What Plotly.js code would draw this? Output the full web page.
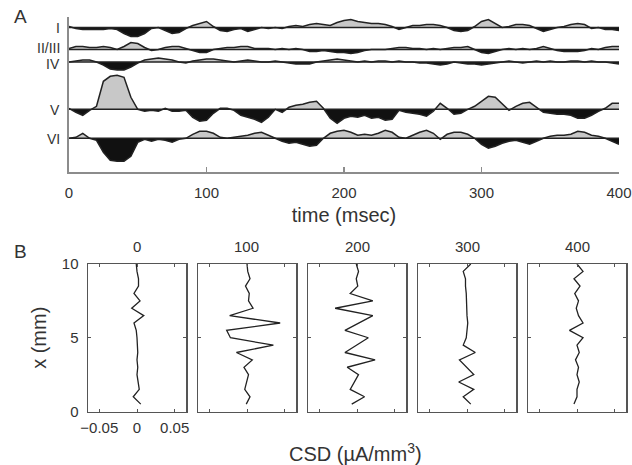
<!DOCTYPE html>
<html><head><meta charset="utf-8">
<script src="https://cdn.plot.ly/plotly-3.0.1.min.js"></script>
<style>html,body{margin:0;padding:0;background:#fff}#chart{width:632px;height:465px}</style>
</head><body><div id="chart"></div>
<script>
// ---------- DATA ----------
// Panel A: time axis (msec) and CSD traces per cortical layer (arbitrary units, up = positive)
const time = [0,5,10,15,20,25,30,35,40,45,50,55,60,65,70,75,80,85,90,95,100,105,110,115,120,125,130,135,140,145,150,155,160,165,170,175,180,185,190,195,200,205,210,215,220,225,230,235,240,245,250,255,260,265,270,275,280,285,290,295,300,305,310,315,320,325,330,335,340,345,350,355,360,365,370,375,380,385,390,395,400];
const layerNames = ["I","II/III","IV","V","VI"];
const layerI   = [1,-1,-2,-2,-2,-2,-1,-2,-6,-9, -9,-6,-1,0,-3,-6,-5,-1,2,4, 6,1,-3,-4,-2,-1,-4,-2,0,-1, 0,-1,1,2,1,3,4,3,2,5, 7,8,6,5,4,4,3,1,-2,0, 2,2,3,3,2,0,-3,-4,-3,1, 6,8,4,0,1,3,3,2,-1,-4, -2,0,1,3,4,3,-1,0,-2,-2, -3];
const layerII  = [1,3,3,2,2,3,2,0,3,7, 6,2,-1,0,2,3,3,1,-1,-3, -3,0,1,2,2,3,3,1,1,1, 0,1,0,1,0,-2,-2,-1,-2,-3, -3,-4,-3,-1,0,0,0,1,2,2, 1,1,0,1,0,1,2,2,3,0, -3,-4,-2,0,1,0,1,0,1,3, 1,-1,-2,-2,-2,-1,1,0,2,3, 3];
const layerIV  = [0,1,2,2,0,-3,-7,-8,-8,-5, -1,2,3,4,3,2,0,-1,1,2, 3,3,2,1,0,1,2,1,0,0, 1,0,-1,-2,-2,-2,0,1,2,3, 2,1,0,1,0,1,1,0,1,0, 0,-1,-1,-2,-3,-2,0,-1,-2,-2, -3,-2,-1,0,1,0,-1,0,1,0, 1,0,0,1,1,0,1,0,0,-1, -2];
const layerV   = [1,-3,-6,-1,3,28,33,34,32,12, 0,-2,-1,-2,1,-2,-2,-1,-8,-12, -11,-4,1,1,-1,-6,-8,-10,-13,-8, 0,-3,2,4,5,7,8,1,-9,-14, -9,-7,-8,-6,-9,-8,-11,-10,-1,-3, -4,-5,-7,-2,6,1,-5,-4,0,3, 8,13,12,5,-1,3,6,7,2,-3, -4,-5,-5,-6,-9,-9,-6,-2,1,6, 6];
const layerVI  = [0,1,5,0,-2,-14,-22,-23,-23,-18, -4,-1,-3,-1,-2,-4,-1,0,4,7, 7,5,1,0,1,2,3,5,6,3, 0,-3,-5,-4,-6,-8,-7,0,5,7, 8,6,3,4,3,5,8,6,1,0, 3,6,8,5,-1,4,6,6,4,0, -6,-10,-8,-5,-3,-2,-4,-6,-3,0, 2,3,3,4,7,6,3,2,0,-3, -6];
const timeTicks = [0,100,200,300,400];

// Panel B: CSD depth profiles at snapshot times
const snapshotTimes = [0,100,200,300,400];
const depth = [0.5,1,1.5,2,2.5,3,3.5,4,4.5,5,5.5,6,6.5,7,7.5,8,8.5,9,9.5,10];
const csd0   = [0.005,-0.005,0.003,0.001,0.000,0.001,0.000,0.001,0.001,0.000,-0.001,-0.004,0.009,-0.007,0.004,-0.004,0.002,0.002,0.000,-0.001];
const csd100 = [-0.001,0.004,-0.003,-0.001,0.002,-0.004,0.007,-0.014,0.035,-0.022,-0.027,0.044,-0.023,0.008,0.002,0.003,-0.002,0.004,0.001,0.000];
const csd200 = [-0.007,0.010,-0.009,-0.003,0.002,-0.013,0.024,-0.016,0.000,0.015,-0.016,0.003,0.021,-0.029,0.021,-0.009,0.001,-0.001,0.002,-0.001];
const csd300 = [0.005,-0.005,0.009,-0.011,0.009,-0.001,-0.010,0.011,-0.005,-0.001,0.000,0.001,0.000,0.000,-0.001,-0.001,-0.002,-0.002,-0.005,0.005];
const csd400 = [-0.004,0.000,0.000,0.003,0.000,0.002,-0.002,0.003,0.000,0.008,-0.010,0.008,0.002,-0.001,0.002,-0.003,0.004,-0.004,0.008,0.000];
const csdTicks = [-0.05,0,0.05];
const depthTicks = [0,5,10];

// ---------- LAYOUT HELPERS ----------
const W = 632, H = 465;
const px = x => x / W, py = y => 1 - y / H;
const baselinePx = [27.5, 49.5, 62, 109.3, 138.3];   // vertical placement of each layer
const labelPx = [28.5, 48, 64, 110, 138.5];          // vertical placement of layer labels
const FONT = "Liberation Sans, Arial, Helvetica, sans-serif";
const TXT = "#333";

const data = [];
const layers = [layerI, layerII, layerIV, layerV, layerVI];
layers.forEach((vals, k) => {
  const b = -baselinePx[k];
  const tx = [], pos = [], neg = [];
  for (let i = 0; i < time.length; i++) {
    if (i > 0) {
      const v0 = vals[i-1], v1 = vals[i];
      if ((v0 < 0 && v1 > 0) || (v0 > 0 && v1 < 0)) {
        const tc = time[i-1] + (time[i] - time[i-1]) * (v0 / (v0 - v1));
        tx.push(tc); pos.push(b); neg.push(b);
      }
    }
    tx.push(time[i]); pos.push(b + Math.max(vals[i], 0)); neg.push(b + Math.min(vals[i], 0));
  }
  const base = tx.map(() => b);
  const common = {mode: 'lines', hoverinfo: 'skip', showlegend: false, xaxis: 'x', yaxis: 'y'};
  data.push(Object.assign({x: tx, y: base, line: {width: 0}}, common));
  data.push(Object.assign({x: tx, y: pos, line: {width: 0}, fill: 'tonexty', fillcolor: '#c8c8c8'}, common));
  data.push(Object.assign({x: tx, y: base, line: {width: 0}}, common));
  data.push(Object.assign({x: tx, y: neg, line: {width: 0}, fill: 'tonexty', fillcolor: '#111'}, common));
  data.push(Object.assign({x: [time[0], time[time.length-1]], y: [b, b], line: {color: '#222', width: 1.4}}, common));
  data.push(Object.assign({x: time, y: vals.map(v => b + v), line: {color: '#222', width: 1.5}}, common));
});

const profiles = [csd0, csd100, csd200, csd300, csd400];
const layout = {
  width: W, height: H,
  margin: {l: 0, r: 0, t: 0, b: 0},
  paper_bgcolor: '#fff', plot_bgcolor: 'rgba(0,0,0,0)',
  showlegend: false,
  font: {family: FONT, color: TXT, size: 15},
  xaxis: {
    domain: [px(69), px(619)], anchor: 'y', range: [0, 400],
    tickvals: timeTicks, ticks: 'inside', ticklen: 5, tickwidth: 1.5, tickcolor: '#8c8c8c',
    showline: true, linecolor: '#8c8c8c', linewidth: 2, showgrid: false, zeroline: false,
    tickfont: {size: 15, color: TXT, family: FONT}, ticklabelstandoff: 6,
    title: {text: 'time (msec)', font: {size: 20, color: TXT, family: FONT}, standoff: 8}
  },
  yaxis: {
    domain: [py(172), py(17)], anchor: 'x', range: [-172, -17],
    showline: true, linecolor: '#8c8c8c', linewidth: 2, showgrid: false, zeroline: false,
    showticklabels: false, ticks: ''
  },
  annotations: []
};

profiles.forEach((vals, j) => {
  const n = j + 2;
  const left = 88 + 110 * j;
  data.push({x: vals, y: depth, mode: 'lines', line: {color: '#222', width: 1.3},
             xaxis: 'x' + n, yaxis: 'y' + n, hoverinfo: 'skip', showlegend: false});
  const xa = {
    domain: [px(left), px(left + 98)], anchor: 'y' + n, range: [-0.065, 0.065],
    tickvals: csdTicks, ticktext: csdTicks.map(v => v === 0 ? '0' : (v < 0 ? '\u2212' + Math.abs(v) : String(v))),
    showticklabels: j === 0, ticks: 'inside', ticklen: 3, tickwidth: 1, tickcolor: '#555',
    mirror: 'ticks', showline: true, linecolor: '#555', linewidth: 1.5,
    showgrid: false, zeroline: false, tickfont: {size: 15, color: TXT, family: FONT}, ticklabelstandoff: 2
  };
  const ya = {
    domain: [py(411.5), py(264)], anchor: 'x' + n, range: [0, 10],
    tickvals: depthTicks, showticklabels: j === 0, ticks: 'inside', ticklen: 3, tickwidth: 1, tickcolor: '#555',
    mirror: 'ticks', showline: true, linecolor: '#555', linewidth: 1.5,
    showgrid: false, zeroline: false, tickfont: {size: 15, color: TXT, family: FONT}, ticklabelstandoff: 5
  };
  if (j === 0) ya.title = {text: 'x (mm)', font: {size: 20, color: TXT, family: FONT}, standoff: 10};
  layout['xaxis' + n] = xa;
  layout['yaxis' + n] = ya;
  layout.annotations.push({xref: 'paper', yref: 'paper', x: px(left + 49), y: py(247),
    text: String(snapshotTimes[j]), showarrow: false, xanchor: 'center', yanchor: 'middle',
    font: {size: 15, color: TXT, family: FONT}});
});

layerNames.forEach((name, k) => {
  layout.annotations.push({xref: 'paper', yref: 'paper', x: px(61), y: py(labelPx[k]),
    text: name, showarrow: false, xanchor: 'right', yanchor: 'middle', borderpad: 0,
    font: {size: 14, color: TXT, family: FONT}});
});
layout.annotations.push({xref: 'paper', yref: 'paper', x: px(20), y: py(16), text: 'A', showarrow: false,
  xanchor: 'center', yanchor: 'middle', font: {size: 19, color: TXT, family: FONT}});
layout.annotations.push({xref: 'paper', yref: 'paper', x: px(20), y: py(251), text: 'B', showarrow: false,
  xanchor: 'center', yanchor: 'middle', font: {size: 19, color: TXT, family: FONT}});
layout.annotations.push({xref: 'paper', yref: 'paper', x: px(355), y: py(452), text: 'CSD (\u00b5A/mm<sup>3</sup>)',
  showarrow: false, xanchor: 'center', yanchor: 'middle', font: {size: 20, color: TXT, family: FONT}});

Plotly.newPlot('chart', data, layout, {staticPlot: true, displayModeBar: false});
</script>
</body></html>
